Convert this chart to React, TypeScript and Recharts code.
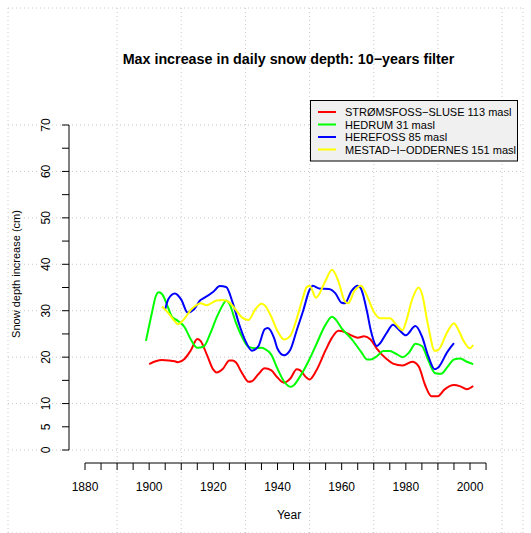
import React from 'react';
import { CartesianGrid, Legend, Line, LineChart, ReferenceLine, XAxis, YAxis } from 'recharts';

const W = 531;
const H = 533;

// pixel anchors
const PX_PER_YEAR = 385 / 120;
const PX_PER_CM = 325 / 70;
const X_1880 = 85;
const Y_ZERO = 450;
const yearAt = (px: number) => 1880 + (px - X_1880) / PX_PER_YEAR;
const cmAt = (py: number) => (Y_ZERO - py) / PX_PER_CM;

// plot region of the main chart
const PLOT = { left: 69, right: 508, top: 112, bottom: 463 };

const xTicks = [1880, 1885, 1890, 1895, 1900, 1905, 1910, 1915, 1920, 1925, 1930, 1935, 1940, 1945, 1950, 1955, 1960, 1965, 1970, 1975, 1980, 1985, 1990, 1995, 2000, 2005];
const xLabels = [1880, 1900, 1920, 1940, 1960, 1980, 2000];
const yTicks = [0, 5, 10, 15, 20, 25, 30, 35, 40, 45, 50, 55, 60, 65, 70];
const yLabels = [0, 5, 10, 20, 30, 40, 50, 60, 70];
const gridYears = [1880, 1890, 1900, 1910, 1920, 1930, 1940, 1950, 1960, 1970, 1980, 1990, 2000, 2010];
const gridCm = [0, 10, 20, 30, 40, 50, 60, 70];

const redYears = [1900, 1902, 1904, 1906, 1908, 1909, 1911, 1913, 1915, 1916, 1918, 1920, 1921, 1923, 1925, 1926, 1927, 1929, 1931, 1932, 1934, 1936, 1938, 1940, 1942, 1944, 1946, 1947, 1949, 1950, 1952, 1955, 1957, 1959, 1961, 1963, 1965, 1967, 1969, 1971, 1974, 1976, 1979, 1982, 1984, 1986, 1988, 1990, 1992, 1995, 1997, 1999, 2001];
const redValues = [18.5, 19.1, 19.4, 19.3, 19.1, 18.9, 19.6, 21.5, 23.9, 23.5, 20.5, 17.3, 16.7, 17.5, 19.3, 19.3, 18.9, 16.5, 14.7, 14.8, 16.3, 17.6, 17.2, 15.6, 14.5, 15.4, 17.4, 17.2, 15.6, 15.2, 17.0, 21.5, 24.2, 25.7, 25.4, 24.7, 24.2, 24.5, 23.8, 21.8, 19.6, 18.6, 18.2, 19.0, 18.0, 14.0, 11.6, 11.6, 13.0, 14.0, 13.7, 13.1, 13.8];

const greenYears = [1899, 1901, 1902, 1903, 1904, 1906, 1907, 1909, 1911, 1913, 1915, 1917, 1919, 1921, 1923, 1924, 1925, 1927, 1929, 1931, 1933, 1935, 1936, 1938, 1940, 1942, 1944, 1945, 1947, 1950, 1952, 1955, 1957, 1958, 1960, 1963, 1966, 1968, 1969, 1971, 1973, 1975, 1977, 1979, 1981, 1983, 1985, 1987, 1989, 1991, 1993, 1995, 1997, 1999, 2001];
const greenValues = [23.5, 30.0, 33.0, 34.0, 33.6, 30.5, 28.8, 27.8, 26.5, 23.8, 22.0, 22.3, 25.0, 28.5, 31.3, 32.2, 31.5, 27.5, 24.3, 22.2, 21.9, 22.0, 21.8, 20.6, 17.5, 14.8, 13.6, 13.9, 15.8, 19.6, 22.6, 27.0, 28.7, 28.2, 26.2, 24.0, 21.2, 19.5, 19.5, 20.2, 21.3, 21.3, 20.7, 20.0, 21.0, 22.9, 22.4, 19.3, 16.6, 16.4, 17.9, 19.5, 19.7, 19.0, 18.5];

const blueYears = [1905, 1906, 1908, 1910, 1912, 1914, 1916, 1917, 1920, 1922, 1924, 1926, 1928, 1930, 1932, 1934, 1936, 1937, 1939, 1940, 1942, 1944, 1946, 1948, 1950, 1951, 1953, 1956, 1958, 1960, 1961, 1963, 1965, 1966, 1968, 1969, 1971, 1972, 1974, 1976, 1978, 1980, 1983, 1985, 1987, 1989, 1990, 1993, 1995];
const blueValues = [30.3, 32.5, 33.7, 32.4, 29.6, 30.3, 32.3, 32.7, 34.1, 35.3, 35.1, 31.8, 27.2, 23.5, 21.4, 22.3, 26.0, 26.3, 24.0, 21.8, 20.4, 21.6, 25.8, 30.0, 34.5, 35.4, 34.8, 34.7, 33.8, 31.7, 31.6, 34.2, 35.4, 34.8, 29.5, 26.0, 22.4, 23.0, 25.2, 27.0, 25.8, 24.7, 26.7, 24.5, 20.2, 17.4, 17.7, 21.2, 23.0];

const yellowYears = [1904, 1906, 1908, 1909, 1911, 1913, 1915, 1916, 1918, 1921, 1923, 1925, 1927, 1929, 1931, 1933, 1935, 1936, 1938, 1940, 1942, 1944, 1946, 1948, 1949, 1950, 1952, 1955, 1957, 1959, 1961, 1962, 1964, 1966, 1968, 1970, 1972, 1975, 1977, 1979, 1980, 1982, 1984, 1985, 1987, 1989, 1990, 1993, 1995, 1996, 1998, 2000, 2001];
const yellowValues = [30.9, 29.5, 27.7, 27.1, 28.3, 30.2, 31.3, 31.6, 31.2, 32.2, 32.3, 31.8, 30.2, 28.5, 28.0, 30.2, 31.5, 31.2, 28.8, 25.6, 23.8, 24.6, 28.3, 33.0, 35.0, 35.4, 32.8, 36.5, 38.8, 36.3, 32.0, 31.6, 34.3, 35.4, 33.0, 29.8, 28.4, 28.4, 27.0, 25.8, 27.5, 32.5, 35.0, 33.7, 26.6, 21.4, 21.5, 25.5, 27.3, 26.4, 23.5, 21.9, 22.6];

const series = [
  { name: 'STRØMSFOSS−SLUSE 113 masl', color: '#ff0000', years: redYears, values: redValues },
  { name: 'HEDRUM 31 masl', color: '#00ff00', years: greenYears, values: greenValues },
  { name: 'HEREFOSS 85 masl', color: '#0000ff', years: blueYears, values: blueValues },
  { name: 'MESTAD−I−ODDERNES 151 masl', color: '#ffff00', years: yellowYears, values: yellowValues }
];

const xDomain = [yearAt(PLOT.left), yearAt(PLOT.right)];
const yDomain = [cmAt(PLOT.bottom), cmAt(PLOT.top)];

function XTick({ x, y, payload }: any) {
  if (!xLabels.includes(payload.value)) return <g />;
  return (
    <text x={x} y={y + 21} textAnchor="middle" fontSize={12} fill="#000">
      {payload.value}
    </text>
  );
}

function YTick({ x, y, payload }: any) {
  if (!yLabels.includes(payload.value)) return <g />;
  return (
    <text x={x} y={y} transform={`rotate(-90 ${x} ${y})`} textAnchor="middle" fontSize={12} fill="#000">
      {payload.value}
    </text>
  );
}

function LegendBox() {
  return (
    <svg width={212} height={64} style={{ overflow: 'visible', display: 'block' }}>
      <rect x={0.5} y={0.5} width={207} height={60.5} fill="#f0f0f0" stroke="#000" />
      {series.map((s, i) => (
        <g key={s.name}>
          <line x1={8} x2={26} y1={12 + i * 12.5} y2={12 + i * 12.5} stroke={s.color} strokeWidth={2} />
          <text x={35} y={16 + i * 12.5} fontSize={11} fill="#000">
            {s.name}
          </text>
        </g>
      ))}
    </svg>
  );
}

export default function App() {
  return (
    <div style={{ position: 'absolute', left: 0, top: 0, width: W, height: H, fontFamily: 'Liberation Sans, Arial, sans-serif', background: '#fff' }}>
      <div style={{ position: 'absolute', left: 0, top: 0 }}>
        <LineChart width={W} height={H} margin={{ top: 8, right: 8, bottom: 0, left: 8 }}>
          <XAxis type="number" dataKey="year" hide domain={[yearAt(8), yearAt(523)]} ticks={gridYears} allowDataOverflow />
          <YAxis type="number" hide domain={[cmAt(533), cmAt(8)]} ticks={gridCm} allowDataOverflow />
          <CartesianGrid stroke="#c8c8c8" strokeDasharray="1 3" />
        </LineChart>
      </div>
      <div style={{ position: 'absolute', left: 0, top: 0 }}>
        <LineChart
          width={W}
          height={H}
          margin={{ top: PLOT.top, right: W - PLOT.right, bottom: 10, left: PLOT.left - 60 }}
        >
          <XAxis
            type="number"
            dataKey="year"
            domain={xDomain}
            ticks={xTicks}
            interval={0}
            allowDataOverflow
            axisLine={false}
            tickLine={{ stroke: '#000' }}
            tickSize={7}
            tickMargin={0}
            height={H - 10 - PLOT.bottom}
            tick={<XTick />}
          />
          <YAxis
            type="number"
            domain={yDomain}
            ticks={yTicks}
            interval={0}
            allowDataOverflow
            axisLine={false}
            tickLine={{ stroke: '#000' }}
            tickSize={7}
            tickMargin={12}
            width={60}
            tick={<YTick />}
          />
          <ReferenceLine segment={[{ x: 1880, y: yDomain[0] }, { x: 2005, y: yDomain[0] }]} stroke="#000" ifOverflow="visible" />
          <ReferenceLine segment={[{ x: xDomain[0], y: 0 }, { x: xDomain[0], y: 70 }]} stroke="#000" ifOverflow="visible" />
          {series.map((s) => (
            <Line
              key={s.name}
              data={s.years.map((year, i) => ({ year, v: s.values[i] }))}
              dataKey="v"
              name={s.name}
              type="monotone"
              stroke={s.color}
              strokeWidth={2}
              dot={false}
              isAnimationActive={false}
            />
          ))}
          <Legend
            layout="horizontal"
            align="center"
            verticalAlign="middle"
            content={<LegendBox />}
            wrapperStyle={{ position: 'absolute', left: 310, top: 100, width: 212 }}
          />
          <text x={288.5} y={64} textAnchor="middle" fontSize={14.3} fontWeight="bold" fill="#000">
            Max increase in daily snow depth: 10−years filter
          </text>
          <text x={289} y={519} textAnchor="middle" fontSize={12} fill="#000">
            Year
          </text>
          <text x={20} y={274} transform="rotate(-90 20 274)" textAnchor="middle" fontSize={11} fill="#000">
            Snow depth increase (cm)
          </text>
        </LineChart>
      </div>
    </div>
  );
}
